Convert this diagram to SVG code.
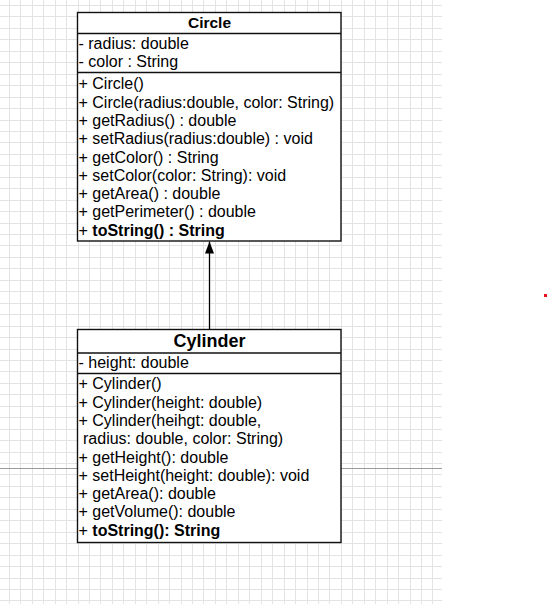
<svg xmlns="http://www.w3.org/2000/svg" width="548" height="604" viewBox="0 0 548 604">
  <style>
    .grid { stroke: #e3e3e3; stroke-width: 1; fill: none; shape-rendering: crispEdges; }
    .box { fill: #ffffff; stroke: #111111; stroke-width: 1.4; }
    .sep { stroke: #111111; stroke-width: 1.4; }
    .t { font-family: "Liberation Sans", Arial, sans-serif; font-size: 16px; fill: #000000; }
    .title { font-family: "Liberation Sans", Arial, sans-serif; font-weight: bold; fill: #000000; text-anchor: middle; }
    .b { font-weight: bold; }
    .edge { stroke: #000000; stroke-width: 1.3; fill: none; }
  </style>
  <defs>
    <marker id="arrow" markerUnits="userSpaceOnUse" markerWidth="12" markerHeight="10" refX="12" refY="4.5" orient="auto">
      <path d="M0,0 L12,4.5 L0,9 Z" fill="#000000"/>
    </marker>
  </defs>
  <rect x="0" y="0" width="548" height="604" fill="#ffffff"/>
  <g id="grid">
    <path class="grid" d="M9.3 0V604M20.75 0V604M32.2 0V604M43.65 0V604M55.1 0V604M66.55 0V604M78 0V604M89.45 0V604M100.9 0V604M112.35 0V604M123.8 0V604M135.25 0V604M146.7 0V604M158.15 0V604M169.6 0V604M181.05 0V604M192.5 0V604M203.95 0V604M215.4 0V604M226.85 0V604M238.3 0V604M249.75 0V604M261.2 0V604M272.65 0V604M284.1 0V604M295.55 0V604M307 0V604M318.45 0V604M329.9 0V604M341.35 0V604M352.8 0V604M364.25 0V604M375.7 0V604M387.15 0V604M398.6 0V604M410.05 0V604M421.5 0V604M432.95 0V604"/>
    <path class="grid" d="M0 5.5H442M0 16.95H442M0 28.4H442M0 39.85H442M0 51.3H442M0 62.75H442M0 74.2H442M0 85.65H442M0 97.1H442M0 108.55H442M0 120H442M0 131.45H442M0 142.9H442M0 154.35H442M0 165.8H442M0 177.25H442M0 188.7H442M0 200.15H442M0 211.6H442M0 223.05H442M0 234.5H442M0 245.95H442M0 257.4H442M0 268.85H442M0 280.3H442M0 291.75H442M0 303.2H442M0 314.65H442M0 326.1H442M0 337.55H442M0 349H442M0 360.45H442M0 371.9H442M0 383.35H442M0 394.8H442M0 406.25H442M0 417.7H442M0 429.15H442M0 440.6H442M0 452.05H442M0 463.5H442M0 474.95H442M0 486.4H442M0 497.85H442M0 509.3H442M0 520.75H442M0 532.2H442M0 543.65H442M0 555.1H442M0 566.55H442M0 578H442M0 589.45H442M0 600.9H442"/>
    <path d="M0 468.5H442" stroke="#9a9a9a" stroke-width="1" shape-rendering="crispEdges"/>
  </g>
  <rect x="544" y="294" width="3" height="3" fill="#e8141b"/>

  <g id="connectors">
    <line class="edge" x1="209.5" y1="329.5" x2="209.5" y2="241.5" marker-end="url(#arrow)"/>
  </g>

  <g id="circle">
    <rect class="box" x="77.5" y="12.5" width="263.5" height="228.5"/>
    <line class="sep" x1="77.5" y1="33.5" x2="341" y2="33.5"/>
    <line class="sep" x1="77.5" y1="72.5" x2="341" y2="72.5"/>
    <text class="title" x="209.5" y="28.3" font-size="15.5">Circle</text>
    <text class="t" x="78.5" y="49">- radius: double</text>
    <text class="t" x="78.5" y="67.3">- color : String</text>
    <text class="t" x="78.5" y="89.3">+ Circle()</text>
    <text class="t" x="78.5" y="107.6">+ Circle(radius:double, color: String)</text>
    <text class="t" x="78.5" y="125.9">+ getRadius() : double</text>
    <text class="t" x="78.5" y="144.2">+ setRadius(radius:double) : void</text>
    <text class="t" x="78.5" y="162.5">+ getColor() : String</text>
    <text class="t" x="78.5" y="180.8">+ setColor(color: String): void</text>
    <text class="t" x="78.5" y="199.1">+ getArea() : double</text>
    <text class="t" x="78.5" y="217.4">+ getPerimeter() : double</text>
    <text class="t" x="78.5" y="235.7">+ <tspan class="b">toString() : String</tspan></text>
  </g>

  <g id="cylinder">
    <rect class="box" x="77.5" y="329.5" width="263.5" height="213"/>
    <line class="sep" x1="77.5" y1="353" x2="341" y2="353"/>
    <line class="sep" x1="77.5" y1="373.5" x2="341" y2="373.5"/>
    <text class="title" x="209.5" y="347.3" font-size="18">Cylinder</text>
    <text class="t" x="78.5" y="368.3">- height: double</text>
    <text class="t" x="78.5" y="389.3">+ Cylinder()</text>
    <text class="t" x="78.5" y="407.6">+ Cylinder(height: double)</text>
    <text class="t" x="78.5" y="425.9">+ Cylinder(heihgt: double,</text>
    <text class="t" x="83" y="444.2">radius: double, color: String)</text>
    <text class="t" x="78.5" y="462.5">+ getHeight(): double</text>
    <text class="t" x="78.5" y="480.8">+ setHeight(height: double): void</text>
    <text class="t" x="78.5" y="499.1">+ getArea(): double</text>
    <text class="t" x="78.5" y="517.4">+ getVolume(): double</text>
    <text class="t" x="78.5" y="535.7">+ <tspan class="b">toString(): String</tspan></text>
  </g>
</svg>
